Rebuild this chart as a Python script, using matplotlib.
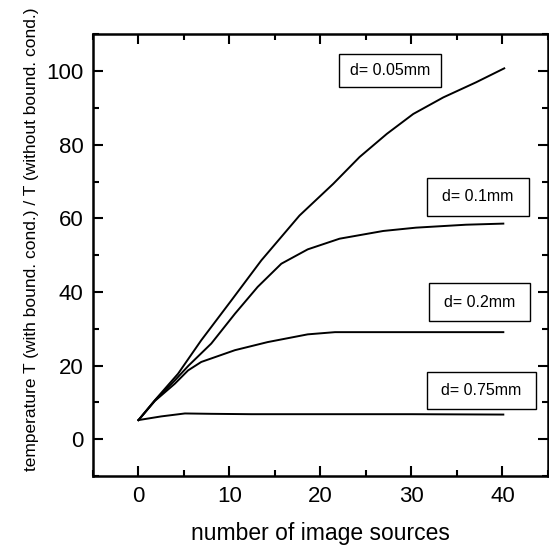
import numpy as np
import matplotlib
matplotlib.use("Agg")
import matplotlib.pyplot as plt
from matplotlib.patches import Rectangle
from matplotlib.ticker import MultipleLocator

plt.rcParams['font.family'] = ['Liberation Sans', 'DejaVu Sans']

# temperature ratio vs. number of image sources, one curve per distance d
x_005 = [0, 1.8, 4.35, 6.9, 10.2, 13.5, 17.7, 21.4, 24.3, 27.3, 30.2, 33.5, 37.1, 40.2]
y_005 = [5.2, 10.6, 17.8, 26.9, 37.7, 48.6, 60.8, 69.4, 76.7, 83.0, 88.4, 92.9, 97.0, 100.8]

x_01 = [0, 1.8, 4.0, 5.5, 8.0, 10.6, 13.1, 15.7, 18.6, 22.1, 26.9, 30.5, 36.0, 40.1]
y_01 = [5.2, 10.5, 16.0, 20.0, 26.0, 34.1, 41.4, 47.7, 51.6, 54.5, 56.6, 57.5, 58.3, 58.6]

x_02 = [0, 1.8, 4.0, 5.45, 6.9, 10.6, 14.2, 18.6, 21.6, 30, 40.1]
y_02 = [5.2, 10.4, 15.1, 18.7, 21.0, 24.2, 26.4, 28.5, 29.1, 29.1, 29.1]

x_075 = [0, 2.5, 5.1, 8.0, 12.4, 20, 30, 40.1]
y_075 = [5.2, 6.2, 7.0, 6.9, 6.8, 6.8, 6.8, 6.7]

labels = ["d= 0.05mm", "d= 0.1mm", "d= 0.2mm", "d= 0.75mm"]
# label boxes in data units: (x0, x1, y0, y1)
boxes = [(22.0, 33.3, 95.6, 104.8), (31.7, 42.9, 60.8, 70.9),
         (31.9, 43.0, 32.0, 42.4), (31.7, 43.7, 8.1, 18.2)]

fig = plt.figure(figsize=(5.49, 5.45), dpi=100)
ax = fig.add_axes([0.1694, 0.1266, 0.8286, 0.8101])

for xs, ys in [(x_005, y_005), (x_01, y_01), (x_02, y_02), (x_075, y_075)]:
    ax.plot(xs, ys, color="black", lw=1.4)

for text, (bx0, bx1, by0, by1) in zip(labels, boxes):
    ax.add_patch(Rectangle((bx0, by0), bx1 - bx0, by1 - by0, fc="white",
                           ec="black", lw=1.0, zorder=3))
    ax.text((bx0 + bx1) / 2, (by0 + by1) / 2, text, fontsize=11.5,
            ha="center", va="center", zorder=4)

ax.set_xlim(-5, 45)
ax.set_ylim(-10, 110)
ax.set_xticks([0, 10, 20, 30, 40])
ax.set_yticks([0, 20, 40, 60, 80, 100])
ax.xaxis.set_minor_locator(MultipleLocator(5))
ax.yaxis.set_minor_locator(MultipleLocator(10))

ax.tick_params(which="both", direction="in", top=True, right=True, width=1.5)
ax.tick_params(which="major", length=7, labelsize=16, pad=7)
ax.tick_params(which="minor", length=4)
for sp in ax.spines.values():
    sp.set_linewidth(1.8)

ax.set_xlabel("number of image sources", fontsize=16.5)
ax.set_ylabel("temperature T (with bound. cond.) / T (without bound. cond.)",
              fontsize=12.5)
ax.xaxis.set_label_coords(0.5, -0.105)
ax.yaxis.set_label_coords(-0.118, 0.536)

fig.savefig("out.png", dpi=100)
